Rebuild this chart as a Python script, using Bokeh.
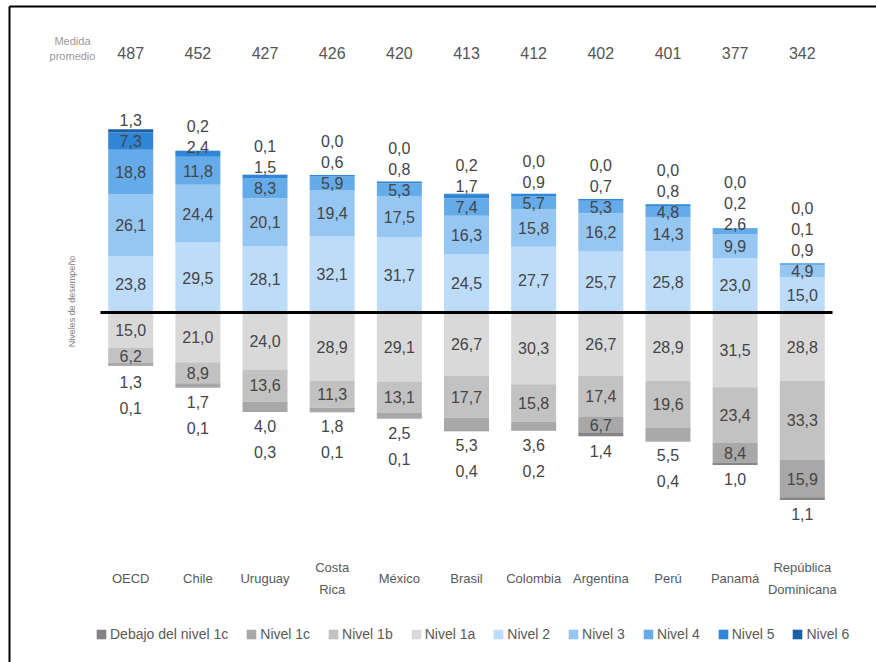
import math
from bokeh.plotting import figure
from bokeh.models import ColumnDataSource, Legend, LegendItem
from bokeh.core.properties import value
from bokeh.embed import file_html
from bokeh.resources import INLINE

# ---------------- data ----------------
countries = ["OECD", "Chile", "Uruguay", "Costa\nRica", "México", "Brasil",
             "Colombia", "Argentina", "Perú", "Panamá", "República\nDominicana"]
mean_scores = [487, 452, 427, 426, 420, 413, 412, 402, 401, 377, 342]

nivel_2 = [23.8, 29.5, 28.1, 32.1, 31.7, 24.5, 27.7, 25.7, 25.8, 23.0, 15.0]
nivel_3 = [26.1, 24.4, 20.1, 19.4, 17.5, 16.3, 15.8, 16.2, 14.3, 9.9, 4.9]
nivel_4 = [18.8, 11.8, 8.3, 5.9, 5.3, 7.4, 5.7, 5.3, 4.8, 2.6, 0.9]
nivel_5 = [7.3, 2.4, 1.5, 0.6, 0.8, 1.7, 0.9, 0.7, 0.8, 0.2, 0.1]
nivel_6 = [1.3, 0.2, 0.1, 0.0, 0.0, 0.2, 0.0, 0.0, 0.0, 0.0, 0.0]

nivel_1a = [15.0, 21.0, 24.0, 28.9, 29.1, 26.7, 30.3, 26.7, 28.9, 31.5, 28.8]
nivel_1b = [6.2, 8.9, 13.6, 11.3, 13.1, 17.7, 15.8, 17.4, 19.6, 23.4, 33.3]
nivel_1c = [1.3, 1.7, 4.0, 1.8, 2.5, 5.3, 3.6, 6.7, 5.5, 8.4, 15.9]
debajo_1c = [0.1, 0.1, 0.3, 0.1, 0.1, 0.4, 0.2, 1.4, 0.4, 1.0, 1.1]

legend_labels = ["Debajo del nivel 1c", "Nivel 1c", "Nivel 1b", "Nivel 1a",
                 "Nivel 2", "Nivel 3", "Nivel 4", "Nivel 5", "Nivel 6"]

# ---------------- styling ----------------
FONT = "Liberation Sans"
colors = {
    "Debajo del nivel 1c": "#848484",
    "Nivel 1c": "#a8a8a8",
    "Nivel 1b": "#c2c2c2",
    "Nivel 1a": "#d9d9d9",
    "Nivel 2": "#bcdcfa",
    "Nivel 3": "#96c6f2",
    "Nivel 4": "#66abe9",
    "Nivel 5": "#2f86d7",
    "Nivel 6": "#1c5fa6",
}

W, H = 876, 662
PX_X = 67.16     # pixels per category
PX_Y = 2.37      # pixels per percentage point
X0 = 130.2       # canvas x of first category
Y0 = 312.0       # canvas y of the baseline

def dx(px):
    return (px - X0) / PX_X

def dy(py):
    return (Y0 - py) / PX_Y

x_start, x_end = dx(0), dx(W)
y_start, y_end = dy(H), dy(0)

p = figure(width=W, height=H, x_range=(x_start, x_end), y_range=(y_start, y_end),
           output_backend="svg", toolbar_location=None, min_border=0,
           x_axis_location=None, y_axis_location=None)
p.grid.visible = False
p.outline_line_color = None
p.background_fill_color = "white"
p.border_fill_color = "white"

n = len(countries)
xs = list(range(n))
BAR_W = 0.67

pos_levels = [("Nivel 2", nivel_2), ("Nivel 3", nivel_3), ("Nivel 4", nivel_4),
              ("Nivel 5", nivel_5), ("Nivel 6", nivel_6)]
neg_levels = [("Nivel 1a", nivel_1a), ("Nivel 1b", nivel_1b),
              ("Nivel 1c", nivel_1c), ("Debajo del nivel 1c", debajo_1c)]

renderers = {}
cum = [0.0] * n
for name, vals in pos_levels:
    bottom = cum[:]
    top = [c + v for c, v in zip(cum, vals)]
    src = ColumnDataSource(dict(x=xs, bottom=bottom, top=top))
    renderers[name] = p.vbar(x="x", bottom="bottom", top="top", width=BAR_W, source=src,
                             fill_color=colors[name], line_color=None)
    cum = top
cum = [0.0] * n
for name, vals in neg_levels:
    top = cum[:]
    bottom = [c - v for c, v in zip(cum, vals)]
    src = ColumnDataSource(dict(x=xs, bottom=bottom, top=top))
    renderers[name] = p.vbar(x="x", bottom="bottom", top="top", width=BAR_W, source=src,
                             fill_color=colors[name], line_color=None)
    cum = bottom

# baseline
p.segment(x0=[-0.45], y0=[0], x1=[n - 1 + 0.45], y1=[0], line_color="black", line_width=3)

# frame lines (top and left of the picture)
p.segment(x0=[dx(9), dx(9)], y0=[dy(6), dy(6)], x1=[dx(9), dx(W + 5)], y1=[dy(H + 5), dy(6)],
          line_color="black", line_width=2)

# ---------------- value labels (layout) ----------------
GAP_UP = 21 / PX_Y
M_UP = 4 / PX_Y
GAP_DN = 26 / PX_Y
M_DN = 14 / PX_Y

def fmt(v):
    return f"{v:.1f}".replace(".", ",")

lx, ly, lt = [], [], []
for i in range(n):
    total_up = sum(vals[i] for _, vals in pos_levels)
    c = 0.0
    prev = -math.inf
    for _, vals in pos_levels:
        v = vals[i]
        center = c + v / 2
        c += v
        if v >= 4.5:
            y = max(center, prev + GAP_UP)
        else:
            y = max(prev + GAP_UP, total_up + M_UP)
        prev = y
        lx.append(i); ly.append(y); lt.append(fmt(v))
    total_dn = sum(vals[i] for _, vals in neg_levels)
    c = 0.0
    prev = math.inf
    for _, vals in neg_levels:
        v = vals[i]
        center = -(c + v / 2)
        c += v
        if v >= 6.0:
            y = min(center, prev - GAP_DN)
        else:
            y = min(prev - GAP_DN, -total_dn - M_DN)
        prev = y
        lx.append(i); ly.append(y); lt.append(fmt(v))

p.text(x=lx, y=ly, text=lt, text_font=value(FONT), text_font_size="16px",
       text_color="#454545", text_align="center", text_baseline="middle")

# mean scores row
p.text(x=xs, y=[dy(52)] * n, text=[str(s) for s in mean_scores], text_font=value(FONT),
       text_font_size="16px", text_color="#555555", text_align="center", text_baseline="middle")
p.text(x=[dx(72)], y=[dy(48)], text=["Medida\npromedio"],
       text_font=value(FONT), text_font_size="11px", text_color="#9a9a9a",
       text_align="center", text_baseline="middle", text_line_height=1.25)

# category labels
p.text(x=xs, y=[dy(578)] * n, text=countries, text_font=value(FONT), text_font_size="13px",
       text_color="#595959", text_align="center", text_baseline="middle", text_line_height=1.5)

# y-axis title
p.text(x=[dx(71)], y=[dy(301)], text=["Niveles de desempeño"],
       text_font=value(FONT), text_font_size="9px", text_color="#808080", angle=math.pi / 2,
       text_align="center", text_baseline="middle")

# legend
legend = Legend(items=[LegendItem(label=lab, renderers=[renderers[lab]]) for lab in legend_labels],
                orientation="horizontal", location=(95, H - 642))
legend.label_text_font = FONT
legend.label_text_font_size = "14px"
legend.label_text_color = "#595959"
legend.glyph_width = 12
legend.glyph_height = 12
legend.label_standoff = 3
legend.spacing = 17
legend.padding = 0
legend.margin = 0
legend.border_line_color = None
legend.background_fill_alpha = 0
legend.label_height = 14
p.add_layout(legend)

open("out.html", "w").write(file_html(p, INLINE))
